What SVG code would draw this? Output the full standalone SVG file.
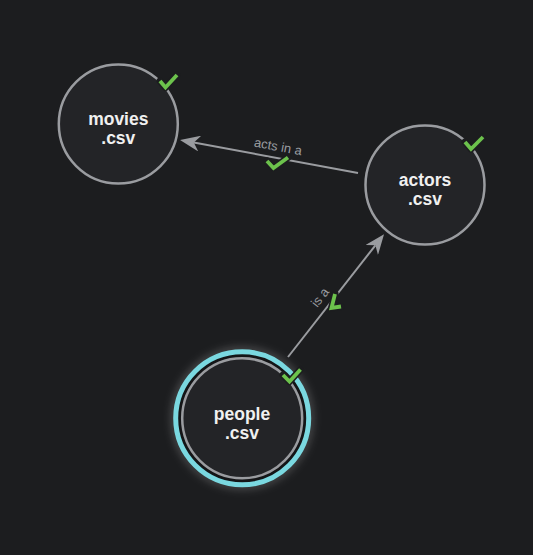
<svg xmlns="http://www.w3.org/2000/svg" width="533" height="555" viewBox="0 0 533 555">
<style>
.node-body{fill:#232427;stroke:#9a9ca0;stroke-width:2.5}
.node-label{font-family:"Liberation Sans",Arial,sans-serif;font-size:17.5px;font-weight:bold;fill:#f0f0f0;text-anchor:middle}
.edge{stroke:#9a9ca0;stroke-width:2;fill:none}
.edge-label{font-family:"Liberation Sans",Arial,sans-serif;font-size:13px;fill:#9a9ca0;text-anchor:middle}
.check-bg{fill:none;stroke:#1c1d1f;stroke-width:7;stroke-linecap:round;stroke-linejoin:round}
.check{fill:none;stroke:#6cc24c;stroke-width:3.8;stroke-linecap:butt;stroke-linejoin:miter}
</style>
<defs>
<marker id="arrow" viewBox="-20 -8 20 16" refX="-14" refY="0" markerWidth="20" markerHeight="16" markerUnits="userSpaceOnUse" orient="auto">
<path d="M0,0 L-20,-8 L-14,0 L-20,8 Z" fill="#9a9ca0"/>
</marker>
<filter id="glow" x="-50%" y="-50%" width="200%" height="200%">
<feGaussianBlur stdDeviation="4"/>
</filter>
</defs>
<rect width="533" height="555" fill="#1c1d1f"/>
<g id="connectors">
<g id="edge-actors-movies">
<line class="edge" x1="358" y1="173" x2="193.8" y2="142.5" marker-end="url(#arrow)"/>
<text class="edge-label" transform="translate(276,157.8) rotate(10.5)" y="-7">acts in a</text>
<path class="check-bg" d="M267,161 L273.5,168 L288,157.5"/>
<path class="check" d="M267,161 L273.5,168 L288,157.5"/>
</g>
<g id="edge-people-actors">
<line class="edge" x1="288" y1="357" x2="375.4" y2="245.3" marker-end="url(#arrow)"/>
<text class="edge-label" transform="translate(329,304.4) rotate(-52)" y="-7">is a</text>
<path class="check-bg" d="M335,294 L331.5,308 L341,306.5"/>
<path class="check" d="M335,294 L331.5,308 L341,306.5"/>
</g>
</g>
<g id="node-movies">
<circle class="node-body" cx="118.3" cy="124" r="59.5"/>
<text class="node-label" x="118.3" y="125">movies</text>
<text class="node-label" x="118.3" y="144">.csv</text>
<path class="check-bg" d="M160,81 L165.5,87.5 L177,75"/>
<path class="check" d="M160,81 L165.5,87.5 L177,75"/>
</g>
<g id="node-actors">
<circle class="node-body" cx="425" cy="185" r="59.5"/>
<text class="node-label" x="425" y="186">actors</text>
<text class="node-label" x="425" y="205">.csv</text>
<path class="check-bg" d="M465,142 L471,149 L483,137"/>
<path class="check" d="M465,142 L471,149 L483,137"/>
</g>
<g id="node-people">
<circle cx="242.2" cy="418.3" r="68" fill="none" stroke="#ffffff" stroke-opacity="0.35" stroke-width="4" filter="url(#glow)"/>
<circle cx="242.2" cy="418.3" r="66.5" fill="#141517" stroke="#7ad8e0" stroke-width="5"/>
<circle class="node-body" cx="242.2" cy="418.3" r="60"/>
<text class="node-label" x="242" y="420">people</text>
<text class="node-label" x="242" y="438.5">.csv</text>
<path class="check-bg" d="M283,375 L289.5,381.5 L300.5,369.5"/>
<path class="check" d="M283,375 L289.5,381.5 L300.5,369.5"/>
</g>
</svg>
